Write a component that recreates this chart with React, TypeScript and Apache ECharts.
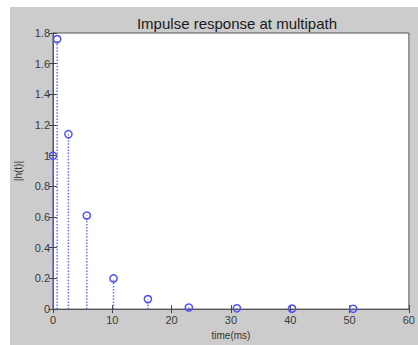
import React, { useEffect, useRef } from "react";
import * as echarts from "echarts";

const times = [0, 0.7, 2.6, 5.7, 10.2, 16.0, 22.9, 31.0, 40.3, 50.6];
const amps = [1.0, 1.76, 1.14, 0.61, 0.2, 0.065, 0.01, 0.005, 0.003, 0.002];
const titleText = "Impulse response at multipath";
const xName = "time(ms)";
const yName = "|h(t)|";

const FONT = "'Liberation Sans', Arial, sans-serif";

export default function App() {
  const ref = useRef<HTMLDivElement>(null);
  useEffect(() => {
    if (!ref.current) return;
    const chart = echarts.init(ref.current, undefined, { renderer: "svg" });
    const data = times.map((t, i) => [t, amps[i]]);
    const tick = { show: true, inside: true, length: 4, lineStyle: { color: "#444" } };
    const line = { show: true, lineStyle: { color: "#555", width: 1 } };
    const label = { color: "#3a3a3a", fontSize: 11, fontFamily: FONT };
    chart.setOption({
      animation: false,
      backgroundColor: "#ffffff",
      textStyle: { fontFamily: FONT },
      graphic: [
        {
          type: "rect",
          z: -10,
          silent: true,
          shape: { x: 10, y: 7, width: 408, height: 338 },
          style: { fill: "#cccccc" },
        },
      ],
      title: {
        text: titleText,
        left: 232,
        top: 11,
        textAlign: "center",
        textStyle: { fontSize: 15, fontWeight: "normal", color: "#1a1a1a", fontFamily: FONT },
      },
      grid: {
        left: 53,
        top: 33,
        right: 6,
        bottom: 31,
        show: true,
        backgroundColor: "#ffffff",
        borderColor: "#555",
        borderWidth: 1,
      },
      xAxis: [
        {
          type: "value",
          min: 0,
          max: 60,
          interval: 10,
          splitLine: { show: false },
          axisLine: line,
          axisTick: tick,
          axisLabel: { ...label, margin: 5 },
          name: xName,
          nameLocation: "middle",
          nameGap: 17,
          nameTextStyle: { fontSize: 10, color: "#333", fontFamily: FONT },
        },
        {
          type: "value",
          position: "top",
          min: 0,
          max: 60,
          interval: 10,
          splitLine: { show: false },
          axisLine: line,
          axisTick: tick,
          axisLabel: { show: false },
        },
      ],
      yAxis: [
        {
          type: "value",
          min: 0,
          max: 1.8,
          interval: 0.2,
          splitLine: { show: false },
          axisLine: line,
          axisTick: tick,
          axisLabel: { ...label, margin: 3 },
          name: yName,
          nameLocation: "middle",
          nameGap: 23,
          nameTextStyle: { fontSize: 10, color: "#333", fontFamily: FONT },
        },
        {
          type: "value",
          position: "right",
          min: 0,
          max: 1.8,
          interval: 0.2,
          splitLine: { show: false },
          axisLine: line,
          axisTick: tick,
          axisLabel: { show: false },
        },
      ],
      series: [
        {
          type: "custom",
          xAxisIndex: 0,
          yAxisIndex: 0,
          data,
          renderItem: (params: any, api: any) => {
            const x = api.value(0);
            const y = api.value(1);
            const p0 = api.coord([x, 0]);
            const p1 = api.coord([x, y]);
            return {
              type: "group",
              children: [
                {
                  type: "line",
                  shape: { x1: p0[0], y1: p0[1], x2: p1[0], y2: p1[1] },
                  style: { stroke: "#6b6bff", lineWidth: 1.5, lineDash: [1.5, 1.6] },
                },
                {
                  type: "circle",
                  shape: { cx: p1[0], cy: p1[1], r: 3.6 },
                  style: { fill: "none", stroke: "#5050ff", lineWidth: 1.5 },
                },
              ],
            };
          },
        },
      ],
    });
    return () => chart.dispose();
  }, []);
  return (
    <div style={{ position: "absolute", left: 0, top: 0, width: 418, height: 345, background: "#fff" }}>
      <div ref={ref} style={{ width: 418, height: 345 }} />
    </div>
  );
}
